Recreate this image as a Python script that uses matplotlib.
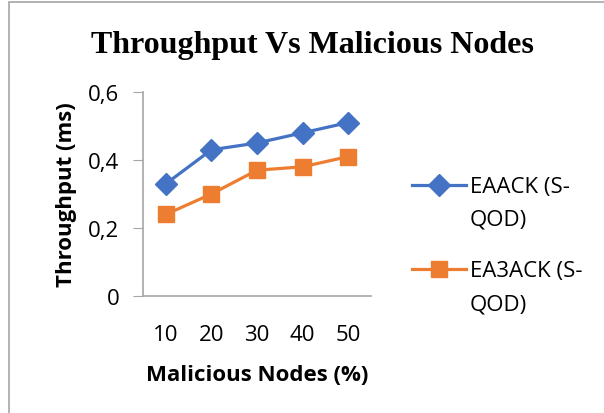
import matplotlib.pyplot as plt
from matplotlib.lines import Line2D
from matplotlib.patches import Rectangle

# data
nodes = ['10', '20', '30', '40', '50']
eaack = [0.33, 0.43, 0.45, 0.48, 0.51]
ea3ack = [0.24, 0.30, 0.37, 0.38, 0.41]
series_names = ['EAACK (S-\nQOD)', 'EA3ACK (S-\nQOD)']
yticks = [0, 0.2, 0.4, 0.6]
ytick_labels = ['0', '0,2', '0,4', '0,6']

sans = ['Open Sans', 'DejaVu Sans']
colors = ['#4472C4', '#ED7D31']
markers = [('D', 11), ('s', 12)]

fig = plt.figure(figsize=(6.04, 4.14), dpi=100)
ax = fig.add_axes([143 / 604, 1 - 297 / 414, (371 - 143) / 604, (297 - 93) / 414])

x = range(len(nodes))
for vals, c, (m, ms) in zip([eaack, ea3ack], colors, markers):
    ax.plot(x, vals, color=c, lw=2.3, marker=m, ms=ms)

ax.set_xlim(-0.5, len(nodes) - 0.5)
ax.set_ylim(0, 0.6)
ax.set_xticks(list(x))
ax.set_xticklabels(nodes, family=sans, fontsize=16)
ax.set_yticks(yticks)
ax.set_yticklabels(ytick_labels, family=sans, fontsize=16)
ax.tick_params(axis='x', length=0, pad=20)
ax.tick_params(axis='y', length=7, color='#A6A6A6', pad=10)

for s in ['top', 'right']:
    ax.spines[s].set_visible(False)
for s in ['left', 'bottom']:
    ax.spines[s].set_color('#A6A6A6')
    ax.spines[s].set_linewidth(1.2)

ax.set_xlabel('Malicious Nodes (%)', family=sans, fontsize=16, fontweight='bold', labelpad=14)
ax.set_ylabel('Throughput (ms)', family=sans, fontsize=16, fontweight='bold', labelpad=8)

fig.text(0.518, 1 - 45 / 414, 'Throughput Vs Malicious Nodes', ha='center', va='center',
         family=['Liberation Serif', 'DejaVu Serif'], fontsize=23, fontweight='bold')

# legend drawn by hand so the key sits on the first line of each label
for i, (name, c, (m, ms)) in enumerate(zip(series_names, colors, markers)):
    ly = 1 - (186 + i * 84) / 414
    fig.add_artist(Line2D([412 / 604, 466 / 604], [ly, ly], color=c, lw=2.3,
                          transform=fig.transFigure))
    fig.add_artist(Line2D([439 / 604], [ly], color=c, marker=m, ms=ms, ls='none',
                          transform=fig.transFigure))
    fig.text(470 / 604, ly + 9 / 414, name, ha='left', va='top', family=sans,
             fontsize=16, linespacing=1.75)

# chart border
fig.patches.append(Rectangle((9 / 604, -0.1), 1.2, 1 - 3 / 414 + 0.1, transform=fig.transFigure,
                             fill=False, edgecolor='#A6A6A6', lw=1.2))

fig.savefig('out.png', dpi=100)
